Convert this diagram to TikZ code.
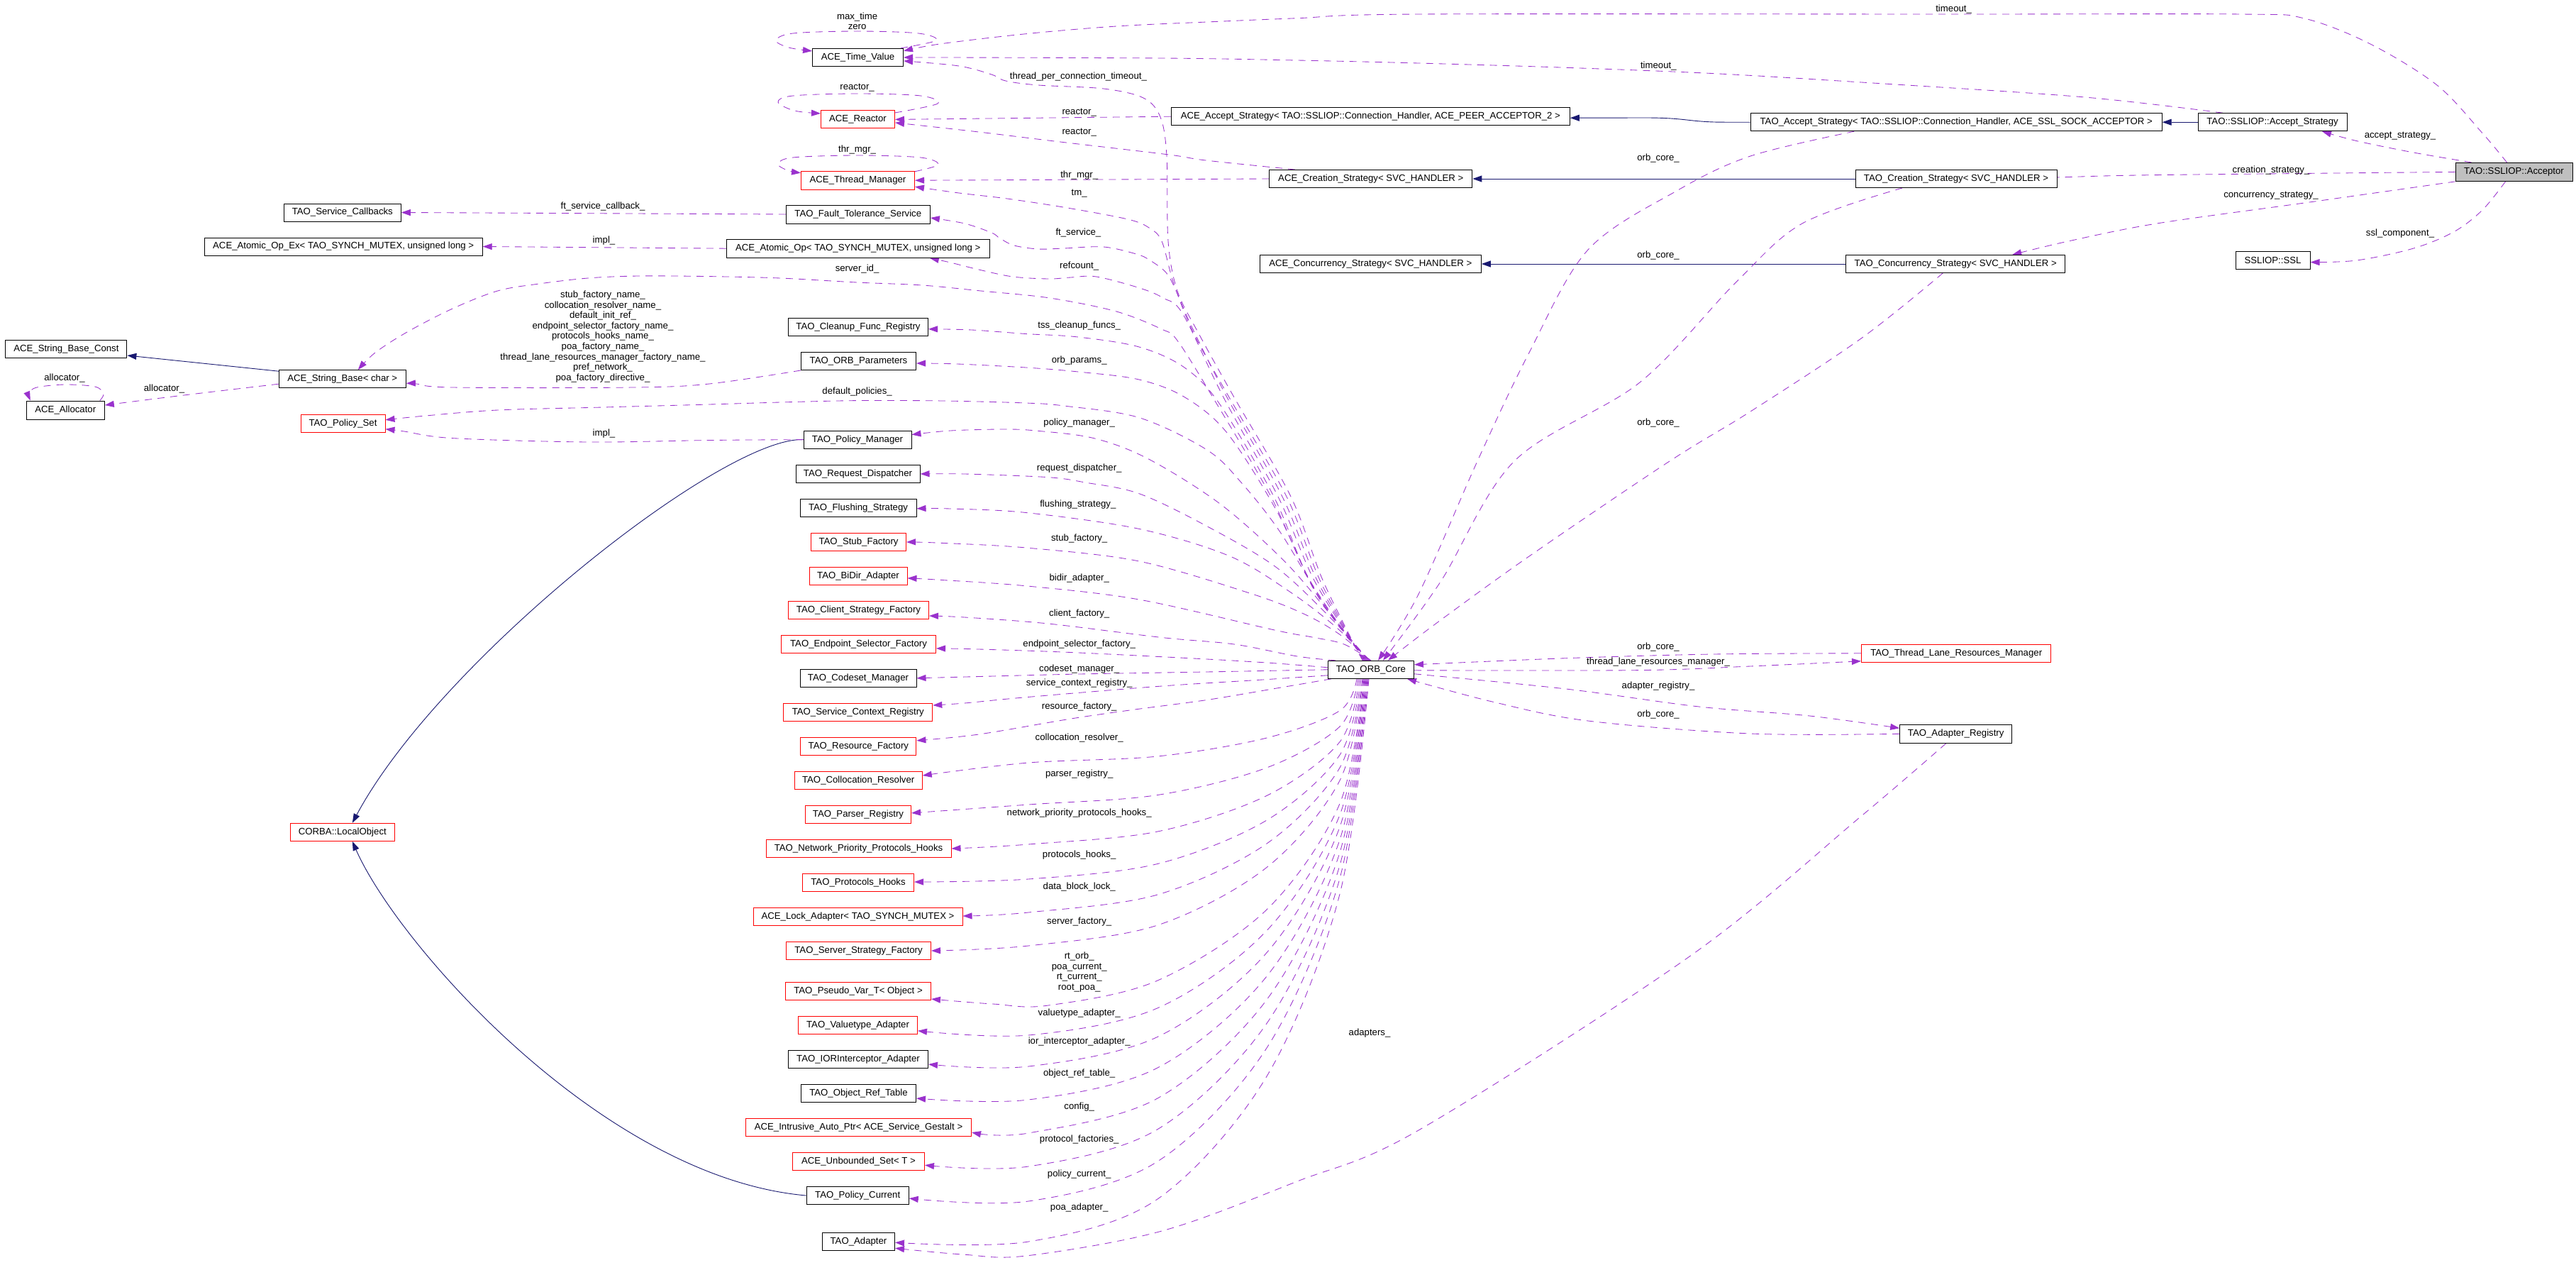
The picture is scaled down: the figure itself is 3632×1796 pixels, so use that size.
\documentclass[tikz,border=0pt]{standalone}
\usepackage{fontspec}
\setmainfont{Liberation Sans}
\usetikzlibrary{arrows.meta}
\definecolor{depc}{HTML}{9A32CD}
\definecolor{inhc}{HTML}{191970}
\definecolor{grayfill}{HTML}{BFBFBF}
\newcommand{\dgfont}{\fontsize{13.2}{14.6}\selectfont}
\pgfdeclarelayer{edges}
\pgfsetlayers{edges,main}
\begin{document}
\begin{tikzpicture}[x=1pt,y=-1pt,
  box/.style={draw=black,line width=1pt,fill=white,inner sep=0pt,font=\dgfont,minimum height=25pt},
  rbox/.style={box,draw=red},
  lbl/.style={font=\dgfont,inner sep=0pt,align=center},
  dep/.style={draw=depc,line width=0.85pt,dash pattern=on 10pt off 8pt,-{Triangle[length=13pt,width=9pt]}},
  inh/.style={draw=inhc,line width=0.9pt,-{Triangle[length=13pt,width=9pt]}},
  sm/.style={smooth,tension=0.55}]
\useasboundingbox (0,0) rectangle (3632,1796);

% ---------------- nodes: middle column
\node[box,minimum width=128pt] (tvalue) at (1209.5,80.9) {ACE\_Time\_Value};
\node[rbox,minimum width=104pt] (reactor) at (1209.5,167.9) {ACE\_Reactor};
\node[rbox,minimum width=160pt,minimum height=26pt] (thrmgr) at (1209.5,254.2) {ACE\_Thread\_Manager};
\node[box,minimum width=203pt,minimum height=26pt] (ftserv) at (1209.8,302) {TAO\_Fault\_Tolerance\_Service};
\node[box,minimum width=371pt,minimum height=26pt] (atomic) at (1209.8,350.2) {ACE\_Atomic\_Op{\textless} TAO\_SYNCH\_MUTEX, unsigned long {\textgreater}};
\node[box,minimum width=197pt] (cleanup) at (1210,460.8) {TAO\_Cleanup\_Func\_Registry};
\node[box,minimum width=162pt] (orbparams) at (1210.5,509) {TAO\_ORB\_Parameters};
\node[box,minimum width=152pt] (polmgr) at (1209,619.6) {TAO\_Policy\_Manager};
\node[box,minimum width=175pt] (reqdisp) at (1209.5,668) {TAO\_Request\_Dispatcher};
\node[box,minimum width=164pt] (flush) at (1210,715.8) {TAO\_Flushing\_Strategy};
\node[rbox,minimum width=134pt] (stub) at (1210.5,764) {TAO\_Stub\_Factory};
\node[rbox,minimum width=138pt] (bidir) at (1210,811.9) {TAO\_BiDir\_Adapter};
\node[rbox,minimum width=198pt] (clientf) at (1210.5,860) {TAO\_Client\_Strategy\_Factory};
\node[rbox,minimum width=218pt] (endpt) at (1210.5,907.9) {TAO\_Endpoint\_Selector\_Factory};
\node[box,minimum width=164pt] (codeset) at (1210,955.8) {TAO\_Codeset\_Manager};
\node[rbox,minimum width=210pt] (svcctx) at (1209.8,1004) {TAO\_Service\_Context\_Registry};
\node[rbox,minimum width=163pt] (resf) at (1210.4,1051.8) {TAO\_Resource\_Factory};
\node[rbox,minimum width=180pt] (colloc) at (1210.2,1100) {TAO\_Collocation\_Resolver};
\node[rbox,minimum width=149pt] (parser) at (1210,1147.9) {TAO\_Parser\_Registry};
\node[rbox,minimum width=261pt] (nphooks) at (1210.5,1196) {TAO\_Network\_Priority\_Protocols\_Hooks};
\node[rbox,minimum width=157pt] (phooks) at (1210,1244) {TAO\_Protocols\_Hooks};
\node[rbox,minimum width=295pt] (lockad) at (1209.5,1292) {ACE\_Lock\_Adapter{\textless} TAO\_SYNCH\_MUTEX {\textgreater}};
\node[rbox,minimum width=204pt] (ssf) at (1210.5,1340) {TAO\_Server\_Strategy\_Factory};
\node[rbox,minimum width=205pt] (pseudo) at (1210,1397) {TAO\_Pseudo\_Var\_T{\textless} Object {\textgreater}};
\node[rbox,minimum width=168pt] (valtype) at (1209.5,1444.8) {TAO\_Valuetype\_Adapter};
\node[box,minimum width=197pt] (ior) at (1210,1493) {TAO\_IORInterceptor\_Adapter};
\node[box,minimum width=162pt] (objref) at (1210.5,1541) {TAO\_Object\_Ref\_Table};
\node[rbox,minimum width=318pt] (intrusive) at (1210.5,1589) {ACE\_Intrusive\_Auto\_Ptr{\textless} ACE\_Service\_Gestalt {\textgreater}};
\node[rbox,minimum width=186pt] (unbset) at (1210.5,1637.2) {ACE\_Unbounded\_Set{\textless} T {\textgreater}};
\node[box,minimum width=144pt] (polcur) at (1209.2,1685) {TAO\_Policy\_Current};
\node[box,minimum width=102pt] (adapter) at (1210.5,1750.2) {TAO\_Adapter};

% ---------------- left columns
\node[box,minimum width=165pt] (svccb) at (482.8,299.5) {TAO\_Service\_Callbacks};
\node[box,minimum width=392pt] (atomicex) at (484.2,347.5) {ACE\_Atomic\_Op\_Ex{\textless} TAO\_SYNCH\_MUTEX, unsigned long {\textgreater}};
\node[box,minimum width=171pt] (sbconst) at (93.4,492) {ACE\_String\_Base\_Const};
\node[box,minimum width=179pt] (sbase) at (482.8,534.2) {ACE\_String\_Base{\textless} char {\textgreater}};
\node[box,minimum width=110pt,minimum height=26pt] (alloc) at (92.3,578) {ACE\_Allocator};
\node[rbox,minimum width=119pt] (polset) at (483.5,596.8) {TAO\_Policy\_Set};
\node[rbox,minimum width=147pt] (localobj) at (482.8,1172.8) {CORBA::LocalObject};

% ---------------- right columns
\node[box,minimum width=562pt] (acceptstrat) at (1932.3,164.2) {ACE\_Accept\_Strategy{\textless} TAO::SSLIOP::Connection\_Handler, ACE\_PEER\_ACCEPTOR\_2 {\textgreater}};
\node[box,minimum width=286pt] (creatstrat) at (1932.8,252) {ACE\_Creation\_Strategy{\textless} SVC\_HANDLER {\textgreater}};
\node[box,minimum width=312pt] (concstrat) at (1932.3,372) {ACE\_Concurrency\_Strategy{\textless} SVC\_HANDLER {\textgreater}};
\node[box,minimum width=121pt] (orbcore) at (1933,943.8) {TAO\_ORB\_Core};
\node[box,minimum width=580pt] (taoaccept) at (2758.2,172.2) {TAO\_Accept\_Strategy{\textless} TAO::SSLIOP::Connection\_Handler, ACE\_SSL\_SOCK\_ACCEPTOR {\textgreater}};
\node[box,minimum width=284pt] (taocreat) at (2758,252) {TAO\_Creation\_Strategy{\textless} SVC\_HANDLER {\textgreater}};
\node[box,minimum width=309pt] (taoconc) at (2757.2,372) {TAO\_Concurrency\_Strategy{\textless} SVC\_HANDLER {\textgreater}};
\node[rbox,minimum width=267.5pt] (tlrm) at (2758.2,920.8) {TAO\_Thread\_Lane\_Resources\_Manager};
\node[box,minimum width=158pt,minimum height=26pt] (adreg) at (2757.7,1034.3) {TAO\_Adapter\_Registry};
\node[box,minimum width=210pt] (sslaccept) at (3204,172.2) {TAO::SSLIOP::Accept\_Strategy};
\node[box,fill=grayfill,minimum width=165pt,minimum height=26pt] (acceptor) at (3544.5,242.4) {TAO::SSLIOP::Acceptor};
\node[box,minimum width=105pt] (ssl) at (3204.5,366.5) {SSLIOP::SSL};

% ---------------- labels
\node[lbl] (l01) at (1208.6,29.9) {max\_time\\zero};
\node[lbl] (l02) at (2754.6,12.9) {timeout\_};
\node[lbl] (l03) at (2338.3,92.8) {timeout\_};
\node[lbl] (l04) at (1520.4,107.8) {thread\_per\_connection\_timeout\_};
\node[lbl] (l05) at (1208.6,124) {reactor\_};
\node[lbl] (l06) at (1521.7,158.8) {reactor\_};
\node[lbl] (l07) at (1521.7,187) {reactor\_};
\node[lbl] (l08) at (1208.6,211.4) {thr\_mgr\_};
\node[lbl] (l09) at (1521.7,246.6) {thr\_mgr\_};
\node[lbl] (l10) at (1521.7,272.7) {tm\_};
\node[lbl] (l11) at (850,290.6) {ft\_service\_callback\_};
\node[lbl] (l12) at (1520.4,328.3) {ft\_service\_};
\node[lbl] (l13) at (851.5,338.7) {impl\_};
\node[lbl] (l14) at (1521.7,374.7) {refcount\_};
\node[lbl] (l15) at (1208.6,379.3) {server\_id\_};
\node[lbl] (l16) at (850,474.4) {stub\_factory\_name\_\\collocation\_resolver\_name\_\\default\_init\_ref\_\\endpoint\_selector\_factory\_name\_\\protocols\_hooks\_name\_\\poa\_factory\_name\_\\thread\_lane\_resources\_manager\_factory\_name\_\\pref\_network\_\\poa\_factory\_directive\_};
\node[lbl] (l17) at (1521.7,459.3) {tss\_cleanup\_funcs\_};
\node[lbl] (l18) at (1521.7,507.8) {orb\_params\_};
\node[lbl] (l19) at (91,532.6) {allocator\_};
\node[lbl] (l20) at (231.5,548.4) {allocator\_};
\node[lbl] (l21) at (1208.6,552.5) {default\_policies\_};
\node[lbl] (l22) at (1521.7,596) {policy\_manager\_};
\node[lbl] (l23) at (851.5,611) {impl\_};
\node[lbl] (l24) at (1521.7,659.7) {request\_dispatcher\_};
\node[lbl] (l25) at (1519.8,711) {flushing\_strategy\_};
\node[lbl] (l26) at (1521.7,758.8) {stub\_factory\_};
\node[lbl] (l27) at (1521.7,814.7) {bidir\_adapter\_};
\node[lbl] (l28) at (1521.7,864.8) {client\_factory\_};
\node[lbl] (l29) at (1521.7,907.7) {endpoint\_selector\_factory\_};
\node[lbl] (l30) at (1521.7,942.9) {codeset\_manager\_};
\node[lbl] (l31) at (1521.7,962.8) {service\_context\_registry\_};
\node[lbl] (l32) at (1521.7,995.7) {resource\_factory\_};
\node[lbl] (l33) at (1521.7,1039.7) {collocation\_resolver\_};
\node[lbl] (l34) at (1521.7,1091) {parser\_registry\_};
\node[lbl] (l35) at (1521.7,1146.5) {network\_priority\_protocols\_hooks\_};
\node[lbl] (l36) at (1521.7,1204.8) {protocols\_hooks\_};
\node[lbl] (l37) at (1521.7,1250.5) {data\_block\_lock\_};
\node[lbl] (l38) at (1521.7,1298.7) {server\_factory\_};
\node[lbl] (l39) at (1521.7,1369.9) {rt\_orb\_\\poa\_current\_\\rt\_current\_\\root\_poa\_};
\node[lbl] (l40) at (1521.7,1427.7) {valuetype\_adapter\_};
\node[lbl] (l41) at (1521.7,1468.5) {ior\_interceptor\_adapter\_};
\node[lbl] (l42) at (1521.7,1512.6) {object\_ref\_table\_};
\node[lbl] (l43) at (1521.7,1560) {config\_};
\node[lbl] (l44) at (1521.7,1606.5) {protocol\_factories\_};
\node[lbl] (l45) at (1521.7,1654.7) {policy\_current\_};
\node[lbl] (l46) at (1521.7,1702.5) {poa\_adapter\_};
\node[lbl] (l47) at (1931,1456.5) {adapters\_};
\node[lbl] (l48) at (2338,223) {orb\_core\_};
\node[lbl] (l49) at (2338,359.8) {orb\_core\_};
\node[lbl] (l50) at (2338,595.6) {orb\_core\_};
\node[lbl] (l51) at (3384,192) {accept\_strategy\_};
\node[lbl] (l52) at (3202,240) {creation\_strategy\_};
\node[lbl] (l53) at (3202,276) {concurrency\_strategy\_};
\node[lbl] (l54) at (3384,328.7) {ssl\_component\_};
\node[lbl] (l55) at (2338,911.6) {orb\_core\_};
\node[lbl] (l56) at (2338,932.6) {thread\_lane\_resources\_manager\_};
\node[lbl] (l57) at (2338,967) {adapter\_registry\_};
\node[lbl] (l58) at (2338,1006.7) {orb\_core\_};

\begin{pgfonlayer}{edges}
% ---------------- inheritance
\draw[inh] (taoaccept.west) -- (2432,172.2) .. controls (2380,172.2) and (2380,166) .. (2320,166) -- ([yshift=-2pt]acceptstrat.east);
\draw[inh] (sslaccept.west) -- (taoaccept.east);
\draw[inh] (taocreat.west) -- (creatstrat.east);
\draw[inh] (taoconc.west) -- (concstrat.east);
\draw[inh] ([yshift=11pt]sbase.west) -- ([yshift=-9pt]sbconst.east);
\draw[inh] (polmgr.west) .. controls (1020,615) and (620,930) .. ([xshift=14pt]localobj.north);
\draw[inh] (polcur.west) .. controls (850,1660) and (560,1330) .. ([xshift=14pt]localobj.south);

% ---------------- self loops
\draw[dep] plot[sm] coordinates {([xshift=-4pt]tvalue.north east) (1320,57) (1295,47) (1209,44) (1118,47) (1094,57) (1112,67) ([yshift=-4pt]tvalue.north west)};
\draw[dep] plot[sm] coordinates {([yshift=-4pt]reactor.north east) (1322,146) (1298,135) (1209,132) (1118,135) (1097,144) (1120,156) ([yshift=-5pt]reactor.north west)};
\draw[dep] plot[sm] coordinates {([yshift=-1pt]thrmgr.north east) (1323,232) (1298,222) (1209,219) (1118,222) (1097,231) (1110,240) ([yshift=-3pt]thrmgr.north west)};
\draw[dep] plot[sm] coordinates {([xshift=-7pt]alloc.north east) (146,555) (134,545) (91,542) (52,546) (41,554) ([xshift=6pt]alloc.north west)};

% ---------------- left side
\draw[dep] (ftserv.west) -- (svccb.east);
\draw[dep] (atomic.west) -- (atomicex.east);
\draw[dep] plot[sm] coordinates {([yshift=-7pt]sbase.west) (255,557.5) ([yshift=7pt]alloc.east)};
\draw[dep] plot[sm] coordinates {(orbparams.south west) (1000,541) (893,546) (638,546) (587,541) ([yshift=-6pt]sbase.east)};
\draw[dep] plot[sm] coordinates {(polmgr.west) (1000,620.5) (829,623) (638,617.6) (570,608) ([yshift=-8pt]polset.east)};

% ---------------- strategies
\draw[dep] (acceptstrat.west) -- ([yshift=-0.5pt]reactor.east);
\draw[dep] plot[sm] coordinates {([xshift=-107pt]creatstrat.north) (1700,226) (1648,218) (1495,200) (1380,186) ([yshift=-5pt]reactor.east)};
\draw[dep] (creatstrat.west) -- (thrmgr.east);

% ---------------- top fan from ORB core
\draw[dep] plot[sm] coordinates {([xshift=-12pt]orbcore.north) (1866,820) (1820,700) (1740,560) (1690,470) (1660,410) (1647,340) (1645,220) (1636,165) (1612,138) (1556,125) (1464,120) (1418,114) (1398,105) (1352,93) ([yshift=-5pt]tvalue.east)};
\draw[dep] plot[sm] coordinates {([xshift=-11pt]orbcore.north) (1862,820) (1814,700) (1733,560) (1683,470) (1655,400) (1638,340) (1620,321) (1590,309) (1505,293) (1420,280) (1352,272) ([yshift=-9pt]thrmgr.east)};
\draw[dep] plot[sm] coordinates {([xshift=-10pt]orbcore.north) (1858,820) (1808,700) (1730,560) (1680,460) (1656,405) (1643,383) (1620,366) (1602,358) (1556,348) (1500,350) (1464,351) (1430,346) (1410,336) (1398,328) (1360,315) ([yshift=-5pt]ftserv.east)};
\draw[dep] plot[sm] coordinates {([xshift=-9pt]orbcore.north) (1854,820) (1802,700) (1725,560) (1668,443) (1640,420) (1607,406) (1546,390) (1510,391) (1479,393) (1428,390) (1380,380) (1340,370) ([xshift=-85pt]atomic.south east)};
\draw[dep] plot[sm] coordinates {([xshift=-8pt]orbcore.north) (1848,820) (1792,700) (1710,560) (1660,480) (1638,464) (1574,439) (1480,420) (1383,410) (1300,402) (1208,398) (1100,392) (1000,389.6) (900,389) (829,392) (760,400) (701.6,410) (638,435) (574,468) (529,497) ([xshift=22pt]sbase.north)};
\draw[dep] plot[sm] coordinates {([xshift=-7pt]orbcore.north) (1852,830) (1796,700) (1720,570) (1670,518) (1606,489) (1520,475) (1446,470.5) (1370,465) ([yshift=-3pt]cleanup.east)};
\draw[dep] plot[sm] coordinates {([xshift=-6pt]orbcore.north) (1858,840) (1800,720) (1730,610) (1670,559.6) (1606,535) (1520,524) (1446.5,518) (1350,513) ([yshift=-3pt]orbparams.east)};
\draw[dep] plot[sm] coordinates {([xshift=-5pt]orbcore.north) (1866,850) (1805,750) (1750,680) (1701.6,634) (1606,588.6) (1500,572) (1446,568) (1330,565) (1208.6,564.6) (1100,567) (1000,570) (850,574) (701.6,578) (600,586) ([yshift=5pt]polset.east)};
\draw[dep] plot[sm] coordinates {([xshift=-4pt]orbcore.north) (1875,865) (1810,790) (1720,710) (1618.7,646.6) (1542,617.6) (1460,607) (1414.6,605) (1340,607) ([yshift=7pt]polmgr.east)};
\draw[dep] plot[sm] coordinates {([xshift=-3pt]orbcore.north) (1880,875) (1800,800) (1701.6,741.6) (1606,695.7) (1530,680) (1478,672.7) (1360,668) (reqdisp.east)};
\draw[dep] plot[sm] coordinates {([xshift=-2pt]orbcore.north) (1885,885) (1820,835) (1733.5,783.7) (1606,745.4) (1446.5,722.5) (1340,717) ([yshift=-1pt]flush.east)};
\draw[dep] plot[sm] coordinates {([xshift=-1pt]orbcore.north) (1890,895) (1840,866) (1765,837) (1606,791) (1446.5,772) (1320,765) (stub.east)};
\draw[dep] plot[sm] coordinates {(orbcore.north) (1895,908) (1850,898) (1797,888) (1606,845) (1446.5,825.8) (1320,817) ([yshift=-3pt]bidir.east)};
\draw[dep] plot[sm] coordinates {([xshift=-50pt]orbcore.north) (1829,925) (1740,908) (1638,898.5) (1478,879) (1360,870) ([yshift=-8pt]clientf.east)};
\draw[dep] plot[sm] coordinates {([yshift=3pt]orbcore.west) (1800,935) (1701.6,929) (1510,919.5) (1380,915) ([yshift=-6pt]endpt.east)};
\draw[dep] plot[sm] coordinates {(orbcore.west) (1700,947) (1522,950) (1400,953) (codeset.east)};
\draw[dep] plot[sm] coordinates {([yshift=-8pt]orbcore.west) (1780,958) (1638,967) (1446.5,982.7) (1360,991) ([yshift=10pt]svcctx.east)};
\draw[dep] plot[sm] coordinates {([xshift=5pt]orbcore.south west) (1800,970) (1701.6,986.5) (1600,1000) (1510,1013) (1380,1035) ([yshift=8pt]resf.east)};

% ---------------- bottom fan
\draw[dep] plot[sm] coordinates {([xshift=-20pt]orbcore.south) (1889,1001.6) (1786,1040) (1632,1066) (1450,1075) ([yshift=7pt]colloc.east)};
\draw[dep] plot[sm] coordinates {([xshift=-18pt]orbcore.south) (1889,1024) (1786,1082) (1632,1120.5) (1450,1134) ([yshift=2pt]parser.east)};
\draw[dep] plot[sm] coordinates {([xshift=-16pt]orbcore.south) (1889,1045.6) (1786,1121.4) (1632,1172) (1450,1190) (nphooks.east)};
\draw[dep] plot[sm] coordinates {([xshift=-14pt]orbcore.south) (1889,1064) (1786,1156) (1632,1217.5) (1450,1239) ([yshift=1pt]phooks.east)};
\draw[dep] plot[sm] coordinates {([xshift=-12pt]orbcore.south) (1889,1082) (1786,1189) (1632,1261) (1450,1286) ([yshift=1pt]lockad.east)};
\draw[dep] plot[sm] coordinates {([xshift=-11pt]orbcore.south) (1889,1100) (1786,1222.5) (1632,1304) (1450,1333) (ssf.east)};
\draw[dep] plot[sm] coordinates {([xshift=-10pt]orbcore.south) (1889,1132.6) (1786,1282) (1632,1382) (1478,1417) (1400,1415) ([yshift=-11pt]pseudo.east)};
\draw[dep] plot[sm] coordinates {([xshift=-9pt]orbcore.south) (1889,1148.6) (1786,1311.6) (1632,1420.8) (1450,1459) ([yshift=-8pt]valtype.east)};
\draw[dep] plot[sm] coordinates {([xshift=-8pt]orbcore.south) (1889,1165.5) (1786,1342.7) (1632,1461.4) (1450,1503) ([yshift=-7pt]ior.east)};
\draw[dep] plot[sm] coordinates {([xshift=-7pt]orbcore.south) (1889,1183.5) (1786,1376) (1632,1505) (1450,1550) ([yshift=-7pt]objref.east)};
\draw[dep] plot[sm] coordinates {([xshift=-6pt]orbcore.south) (1889,1201.5) (1786,1409) (1632,1548) (1450,1597) ([yshift=-7pt]intrusive.east)};
\draw[dep] plot[sm] coordinates {([xshift=-5pt]orbcore.south) (1889,1219.5) (1786,1442.4) (1632,1591.7) (1450,1644) ([yshift=-5pt]unbset.east)};
\draw[dep] plot[sm] coordinates {([xshift=-4pt]orbcore.south) (1889,1238) (1786,1477) (1632,1637) (1450,1693) ([yshift=-4pt]polcur.east)};
\draw[dep] plot[sm] coordinates {([xshift=-3pt]orbcore.south) (1889,1260) (1786,1517) (1632,1690) (1450,1750) ([yshift=-1pt]adapter.east)};

% ---------------- right side to ORB core
\draw[dep] plot[sm] coordinates {([xshift=-144pt]taoaccept.south) (2468,220) (2364,269) (2239,352) (2156,497) (2083,650) (2000,837.5) ([xshift=10pt]orbcore.north)};
\draw[dep] plot[sm] coordinates {([xshift=-76pt]taocreat.south) (2541,315) (2447.5,398) (2312,539) (2135,650) (2031,820) ([xshift=17pt]orbcore.north)};
\draw[dep] plot[sm] coordinates {([xshift=-18pt]taoconc.south) (2624.5,476.7) (2468,580) (2354,650) (2156,784) (2023,880) ([xshift=24pt]orbcore.north)};
\draw[dep] plot[sm] coordinates {(tlrm.west) (2416,922) (2208,927.7) ([yshift=7pt]orbcore.east)};
\draw[dep] plot[sm] coordinates {([yshift=-1pt]orbcore.east) (2312,944.6) (2468,939) ([yshift=-11pt]tlrm.west)};
\draw[dep] plot[sm] coordinates {([yshift=-6pt]orbcore.east) (2208,971) (2395.5,996) (2551.6,1009) ([yshift=8pt]adreg.west)};
\draw[dep] plot[sm] coordinates {(adreg.west) (2468,1034) (2239,1016) (2104,989) ([xshift=-10pt]orbcore.south east)};
\draw[dep] plot[sm] coordinates {([xshift=-14pt]adreg.south) (2624.5,1150) (2385,1346) (2000,1593) (1829,1665) (1638,1735) (1446.5,1770) (1357,1768) ([yshift=-9pt]adapter.east)};

% ---------------- acceptor
\draw[dep] plot[sm] coordinates {([xshift=-10pt]acceptor.north) (3499,186.5) (3436,120) (3342,62) (3249,26) (3160,20) (2754,20) (2000,20) (1829,25.7) (1701.6,31) (1574,37) (1446.5,47.7) (1325,62) ([yshift=9pt]tvalue.east)};
\draw[dep] plot[sm] coordinates {([xshift=-70pt]sslaccept.north) (2937,136.8) (2624.5,116) (2416,103.6) (2208,95.3) (2000,89) (1829,85) (1638,82) (tvalue.east)};
\draw[dep] plot[sm] coordinates {([xshift=-60pt]acceptor.north) (3403,215) (3322.6,198.6) ([xshift=70pt]sslaccept.south)};
\draw[dep] plot[sm] coordinates {(acceptor.west) (3041,246.6) (2916,249.5) ([yshift=2pt]taocreat.east)};
\draw[dep] plot[sm] coordinates {(acceptor.south west) (3249,286) (3041,315) (2916,340) ([xshift=80pt]taoconc.north)};
\draw[dep] plot[sm] coordinates {([xshift=-12pt]acceptor.south) (3500,296) (3460,326.6) (3403,350) (3322.6,367) ([yshift=-3pt]ssl.east)};
\end{pgfonlayer}
\end{tikzpicture}
\end{document}
